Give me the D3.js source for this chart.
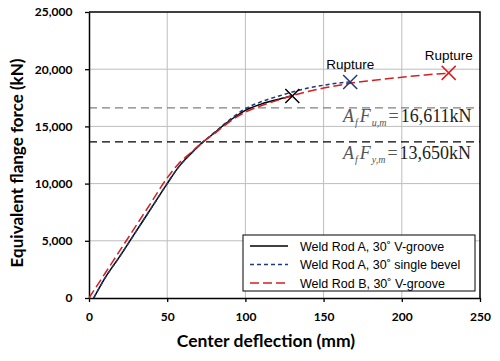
<!DOCTYPE html>
<html>
<head>
<meta charset="utf-8">
<script src="https://cdn.jsdelivr.net/npm/d3@7"></script>
<style>
  body { margin: 0; background: #fff; }
</style>
</head>
<body>
<svg id="chart" width="500" height="361"></svg>
<script>
const xTicks = [0, 50, 100, 150, 200, 250];
const yTicks = [0, 5000, 10000, 15000, 20000, 25000];

// deflection (mm), force (kN)
const rodAVgroove = [[3,0],[10,1700],[20,3700],[30,5800],[40,7900],[50,10000],[57,11400],[65,12600],[73,13650],[80,14400],[86,15100],[93,15800],[100,16400],[110,16950],[122,17400],[130,17650]];
const rodABevel = [[3,0],[10,1700],[20,3700],[30,5800],[40,7900],[50,10000],[57,11400],[65,12600],[73,13650],[80,14450],[86,15150],[93,15900],[100,16550],[110,17150],[122,17680],[130,18000],[140,18350],[150,18600],[160,18800],[167,18880]];
const rodBVgroove = [[0,0],[10,2100],[20,4200],[30,6300],[40,8400],[50,10500],[57,11700],[65,12700],[73,13650],[80,14350],[86,15000],[93,15700],[100,16250],[110,16800],[122,17350],[130,17700],[140,18050],[150,18350],[160,18600],[167,18780],[180,19000],[200,19300],[215,19500],[230,19650]];

const ruptures = [[130,17650,"#000000",""],[167,18880,"#1f3a7a","Rupture"],[230,19680,"#d42020","Rupture"]];
const refLines = [16611, 13650];
const legendLabels = ["Weld Rod A, 30\u02da V-groove", "Weld Rod A, 30\u02da single bevel", "Weld Rod B, 30\u02da V-groove"];

const margin = {top: 12, right: 20, bottom: 63, left: 89};
const width = 500, height = 361;

const x = d3.scaleLinear().domain([0, 250]).range([margin.left, width - margin.right]);
const y = d3.scaleLinear().domain([0, 25000]).range([height - margin.bottom, margin.top]);

const svg = d3.select("#chart");
const tickFont = "Lato, 'Open Sans', sans-serif";

// gridlines
svg.append("g").selectAll("line").data(xTicks.slice(1, -1)).join("line")
  .attr("x1", d => x(d)).attr("x2", d => x(d))
  .attr("y1", y(0)).attr("y2", y(25000))
  .attr("stroke", "#bdbdbd").attr("stroke-width", 1);
svg.append("g").selectAll("line").data(yTicks.slice(1, -1)).join("line")
  .attr("x1", x(0)).attr("x2", x(250))
  .attr("y1", d => y(d)).attr("y2", d => y(d))
  .attr("stroke", "#bdbdbd").attr("stroke-width", 1);

// reference lines
svg.append("g").selectAll("line").data(refLines).join("line")
  .attr("x1", x(0)).attr("x2", x(250))
  .attr("y1", d => y(d)).attr("y2", d => y(d))
  .attr("stroke", (d, i) => i === 0 ? "#808080" : "#000")
  .attr("stroke-width", 1.3)
  .attr("stroke-dasharray", "8,5");

// axes
const xAxis = d3.axisBottom(x).tickValues(xTicks).tickSize(4).tickSizeOuter(0);
const yAxis = d3.axisLeft(y).tickValues(yTicks).tickSize(4).tickSizeOuter(0).tickFormat(d3.format(","));

const gx = svg.append("g").attr("transform", `translate(0,${y(0)})`).call(xAxis);
const gy = svg.append("g").attr("transform", `translate(${x(0)},0)`).call(yAxis);
[gx, gy].forEach(g => {
  g.selectAll("text").attr("font-family", tickFont).attr("font-weight", "bold")
    .attr("font-size", 12).attr("fill", "#000");
  g.selectAll("line").attr("stroke", "#000").attr("stroke-width", 1.3);
  g.select(".domain").attr("stroke", "#000").attr("stroke-width", 1.5);
});
gx.selectAll("text").attr("dy", "1.3em");
gy.selectAll("text").attr("dx", "-0.8em");

// frame top/right
svg.append("path")
  .attr("d", `M${x(0)},${y(25000)}H${x(250)}V${y(0)}`)
  .attr("fill", "none").attr("stroke", "#000").attr("stroke-width", 1.5);

// curves
const line = d3.line().x(d => x(d[0])).y(d => y(d[1])).curve(d3.curveMonotoneX);
const series = [
  {data: rodAVgroove, color: "#000000", dash: null, w: 1.5},
  {data: rodABevel, color: "#1f3a7a", dash: "4,3", w: 1.5},
  {data: rodBVgroove, color: "#d42020", dash: "9,4", w: 1.5}
];
series.forEach(s => {
  svg.append("path").datum(s.data)
    .attr("fill", "none").attr("stroke", s.color)
    .attr("stroke-width", s.w)
    .attr("stroke-dasharray", s.dash)
    .attr("d", line);
});

// rupture markers
ruptures.forEach(r => {
  const cx = x(r[0]), cy = y(r[1]), k = 7;
  svg.append("path")
    .attr("d", `M${cx-k},${cy-k}L${cx+k},${cy+k}M${cx-k},${cy+k}L${cx+k},${cy-k}`)
    .attr("stroke", r[2]).attr("stroke-width", 1.5);
  if (r[3]) {
    svg.append("text").attr("x", cx).attr("y", cy - 13)
      .attr("text-anchor", "middle")
      .attr("font-family", "'Liberation Sans', Arial, sans-serif")
      .attr("font-size", 13.5).text(r[3]);
  }
});

// formula annotations
const formulas = [
  {sub: "u,m", val: "16,611kN", v: refLines[0], off: 14},
  {sub: "y,m", val: "13,650kN", v: refLines[1], off: 17}
];
formulas.forEach(f => {
  const t = svg.append("text")
    .attr("x", 343).attr("y", y(f.v) + f.off)
    .attr("font-family", "'Liberation Serif', 'Times New Roman', serif")
    .attr("font-size", 18).attr("fill", "#555");
  t.append("tspan").attr("font-style", "italic").text("A");
  t.append("tspan").attr("font-style", "italic").attr("font-size", 10).attr("dy", 4).attr("dx", 1).text("f");
  t.append("tspan").attr("font-style", "italic").attr("dy", -4).attr("dx", 2).text("F");
  t.append("tspan").attr("font-style", "italic").attr("font-size", 10).attr("dy", 4).attr("dx", 1).text(f.sub);
  t.append("tspan").attr("dy", -4).attr("dx", 2).text("=");
  t.append("tspan").attr("dx", 2).attr("fill", "#222").text(f.val);
});

// legend
const lg = svg.append("g").attr("transform", "translate(243,235)");
lg.append("rect").attr("width", 232).attr("height", 56)
  .attr("fill", "#fff").attr("stroke", "#000").attr("stroke-width", 1);
series.forEach((s, i) => {
  const ly = 11 + i * 18.5;
  lg.append("line").attr("x1", 7).attr("x2", 45).attr("y1", ly).attr("y2", ly)
    .attr("stroke", s.color).attr("stroke-width", s.w)
    .attr("stroke-dasharray", s.dash);
  lg.append("text").attr("x", 57).attr("y", ly + 4.5)
    .attr("font-family", "'Liberation Sans', Arial, sans-serif")
    .attr("font-size", 12.5).text(legendLabels[i]);
});

// axis titles
svg.append("text")
  .attr("x", 266).attr("y", 347)
  .attr("text-anchor", "middle")
  .attr("font-family", tickFont).attr("font-weight", "bold").attr("font-size", 17.5)
  .text("Center deflection (mm)");
svg.append("text")
  .attr("transform", `translate(23,${163}) rotate(-90)`)
  .attr("text-anchor", "middle")
  .attr("font-family", tickFont).attr("font-weight", "bold").attr("font-size", 17)
  .text("Equivalent flange force (kN)");
</script>
</body>
</html>
